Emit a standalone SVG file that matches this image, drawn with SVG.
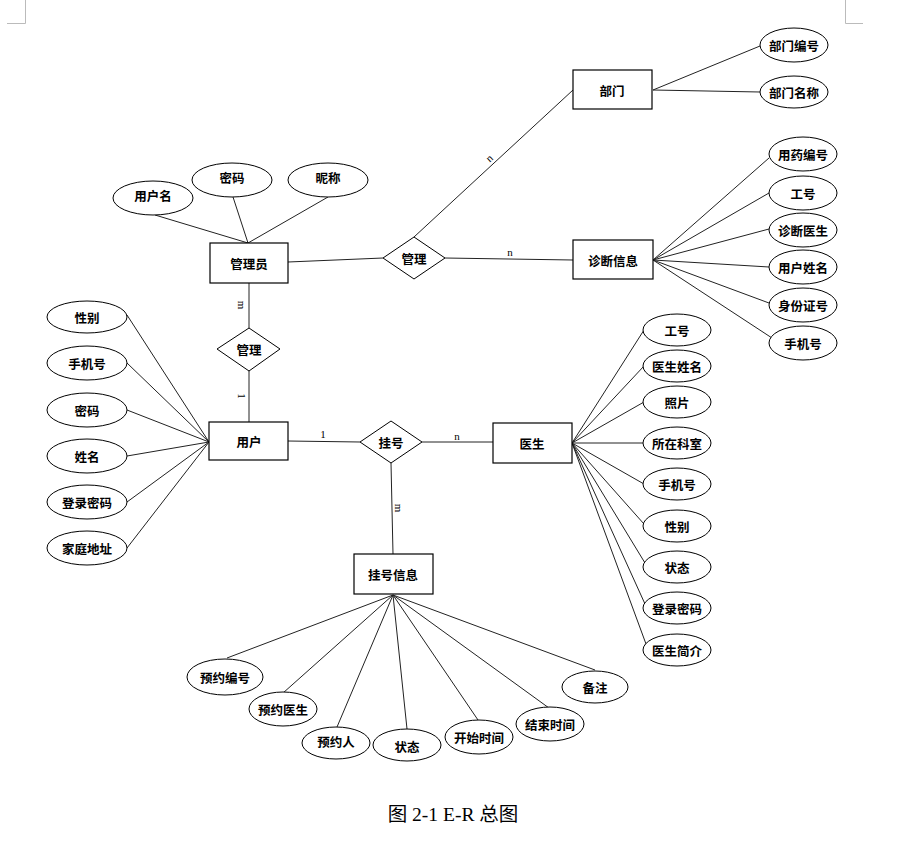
<svg xmlns="http://www.w3.org/2000/svg" width="921" height="865" viewBox="0 0 921 865">
<style>
.ent{fill:#fff;stroke:#000;stroke-width:1.2}
.att{fill:#fff;stroke:#000;stroke-width:1}
.rel{fill:#fff;stroke:#000;stroke-width:1}
.ln{stroke:#222;stroke-width:1;fill:none}
.crn{stroke:#bbb;stroke-width:1;fill:none}
text{font-family:"Noto Sans CJK SC","Noto Sans CJK SC",sans-serif;font-size:12.5px;font-weight:bold;text-anchor:middle;dominant-baseline:central;fill:#000}
.lbl{font-family:"Liberation Serif",serif;font-size:11px;font-weight:normal}
.cap{font-family:"Liberation Serif","Noto Sans CJK SC",serif;font-size:19.5px;font-weight:normal}
</style>
<rect width="921" height="865" fill="#fff"/>
<path class="crn" d="M25.5 0V23.5H7M845.5 0V23.5H863"/>
<g id="connectors">
<path class="ln" d="M653 90L760 46M653 90L760 92"/>
<path class="ln" d="M414 237L573 90M445 258L573 260M288 262L383 258"/>
<path class="ln" d="M653 260L769 158M653 260L769 193M653 260L769 229M653 260L769 267M653 260L769 303M653 260L772 338"/>
<path class="ln" d="M155 215L248 243M233 197L248 243M328 197L248 243"/>
<path class="ln" d="M249 283V328M249 371V422"/>
<path class="ln" d="M127 315L209 442M127 363L209 442M127 410L209 442M127 456L209 442M127 502L209 442M127 548L209 442"/>
<path class="ln" d="M288 441L360 442M422 442L493 442M391 463L393 554"/>
<path class="ln" d="M572 443L644 330M572 443L644 366M572 443L644 402M572 443L643 443M572 443L644 484M572 443L644 524M572 443L645 563M572 443L645 604M572 443L646 644"/>
<path class="ln" d="M393 595L227 658M393 595L283 693M393 595L337 727M393 595L407 729M393 595L478 720M393 595L549 708M393 595L595 670"/>
</g>
<g id="labels">
<text class="lbl" transform="translate(489,158) rotate(-43)">n</text>
<text class="lbl" x="510" y="252">n</text>
<text class="lbl" transform="translate(242,305) rotate(90)">m</text>
<text class="lbl" transform="translate(242,396) rotate(90)">1</text>
<text class="lbl" x="323" y="434">1</text>
<text class="lbl" x="457" y="436">n</text>
<text class="lbl" transform="translate(399,508) rotate(90)">m</text>
</g>
<g id="dept"><rect class="ent" x="573" y="70" width="79" height="39"/><text x="612" y="90">部门</text></g>
<g id="dept_no"><ellipse class="att" cx="794" cy="45" rx="34" ry="17"/><text x="794" y="45">部门编号</text></g>
<g id="dept_name"><ellipse class="att" cx="794" cy="92" rx="34" ry="16"/><text x="794" y="92">部门名称</text></g>
<g id="diag"><rect class="ent" x="573" y="240" width="80" height="39"/><text x="613" y="260">诊断信息</text></g>
<g id="d1"><ellipse class="att" cx="803" cy="154" rx="34" ry="17"/><text x="803" y="154">用药编号</text></g>
<g id="d2"><ellipse class="att" cx="803" cy="193" rx="34" ry="17"/><text x="803" y="193">工号</text></g>
<g id="d3"><ellipse class="att" cx="803" cy="230" rx="34" ry="17"/><text x="803" y="230">诊断医生</text></g>
<g id="d4"><ellipse class="att" cx="803" cy="267" rx="34" ry="17"/><text x="803" y="267">用户姓名</text></g>
<g id="d5"><ellipse class="att" cx="803" cy="305" rx="34" ry="17"/><text x="803" y="305">身份证号</text></g>
<g id="d6"><ellipse class="att" cx="803" cy="343" rx="34" ry="17"/><text x="803" y="343">手机号</text></g>
<g id="admin"><rect class="ent" x="210" y="243" width="78" height="40"/><text x="249" y="263">管理员</text></g>
<g id="a1"><ellipse class="att" cx="153" cy="198" rx="40" ry="17"/><text x="153" y="195">用户名</text></g>
<g id="a2"><ellipse class="att" cx="232" cy="180" rx="40" ry="17"/><text x="232" y="177">密码</text></g>
<g id="a3"><ellipse class="att" cx="328" cy="180" rx="40" ry="17"/><text x="328" y="177">昵称</text></g>
<g id="manage1"><polygon class="rel" points="383,258 414,237 445,258 414,279"/><text x="414" y="258">管理</text></g>
<g id="manage2"><polygon class="rel" points="217,349 249,328 280,349 249,371"/><text x="249" y="349">管理</text></g>
<g id="user"><rect class="ent" x="209" y="422" width="79" height="38"/><text x="249" y="441">用户</text></g>
<g id="u1"><ellipse class="att" cx="87" cy="317" rx="40" ry="16"/><text x="87" y="317">性别</text></g>
<g id="u2"><ellipse class="att" cx="87" cy="363" rx="40" ry="17"/><text x="87" y="363">手机号</text></g>
<g id="u3"><ellipse class="att" cx="87" cy="410" rx="40" ry="17"/><text x="87" y="410">密码</text></g>
<g id="u4"><ellipse class="att" cx="87" cy="456" rx="40" ry="17"/><text x="87" y="456">姓名</text></g>
<g id="u5"><ellipse class="att" cx="87" cy="502" rx="40" ry="17"/><text x="87" y="502">登录密码</text></g>
<g id="u6"><ellipse class="att" cx="87" cy="548" rx="40" ry="17"/><text x="87" y="548">家庭地址</text></g>
<g id="register"><polygon class="rel" points="360,442 391,421 422,442 391,463"/><text x="391" y="442">挂号</text></g>
<g id="doctor"><rect class="ent" x="493" y="423" width="79" height="40"/><text x="532" y="443">医生</text></g>
<g id="m1"><ellipse class="att" cx="677" cy="330" rx="34" ry="16"/><text x="677" y="330">工号</text></g>
<g id="m2"><ellipse class="att" cx="677" cy="366" rx="34" ry="16"/><text x="677" y="366">医生姓名</text></g>
<g id="m3"><ellipse class="att" cx="677" cy="402" rx="34" ry="16"/><text x="677" y="402">照片</text></g>
<g id="m4"><ellipse class="att" cx="677" cy="443" rx="34" ry="16"/><text x="677" y="443">所在科室</text></g>
<g id="m5"><ellipse class="att" cx="677" cy="484" rx="34" ry="16"/><text x="677" y="484">手机号</text></g>
<g id="m6"><ellipse class="att" cx="677" cy="526" rx="34" ry="16"/><text x="677" y="526">性别</text></g>
<g id="m7"><ellipse class="att" cx="677" cy="567" rx="34" ry="16"/><text x="677" y="567">状态</text></g>
<g id="m8"><ellipse class="att" cx="677" cy="608" rx="34" ry="16"/><text x="677" y="608">登录密码</text></g>
<g id="m9"><ellipse class="att" cx="677" cy="650" rx="34" ry="16"/><text x="677" y="650">医生简介</text></g>
<g id="reginfo"><rect class="ent" x="354" y="554" width="79" height="40"/><text x="393" y="574">挂号信息</text></g>
<g id="r1"><ellipse class="att" cx="225" cy="677" rx="38" ry="18"/><text x="225" y="677">预约编号</text></g>
<g id="r2"><ellipse class="att" cx="283" cy="709" rx="34" ry="17"/><text x="283" y="709">预约医生</text></g>
<g id="r3"><ellipse class="att" cx="336" cy="743" rx="34" ry="16"/><text x="336" y="741">预约人</text></g>
<g id="r4"><ellipse class="att" cx="407" cy="745" rx="34" ry="16"/><text x="407" y="746">状态</text></g>
<g id="r5"><ellipse class="att" cx="479" cy="737" rx="34" ry="17"/><text x="479" y="737">开始时间</text></g>
<g id="r6"><ellipse class="att" cx="550" cy="724" rx="34" ry="17"/><text x="550" y="724">结束时间</text></g>
<g id="r7"><ellipse class="att" cx="595" cy="687" rx="33" ry="16"/><text x="595" y="687">备注</text></g>
<text class="cap" x="453" y="814">图 2-1 E-R 总图</text>
</svg>
